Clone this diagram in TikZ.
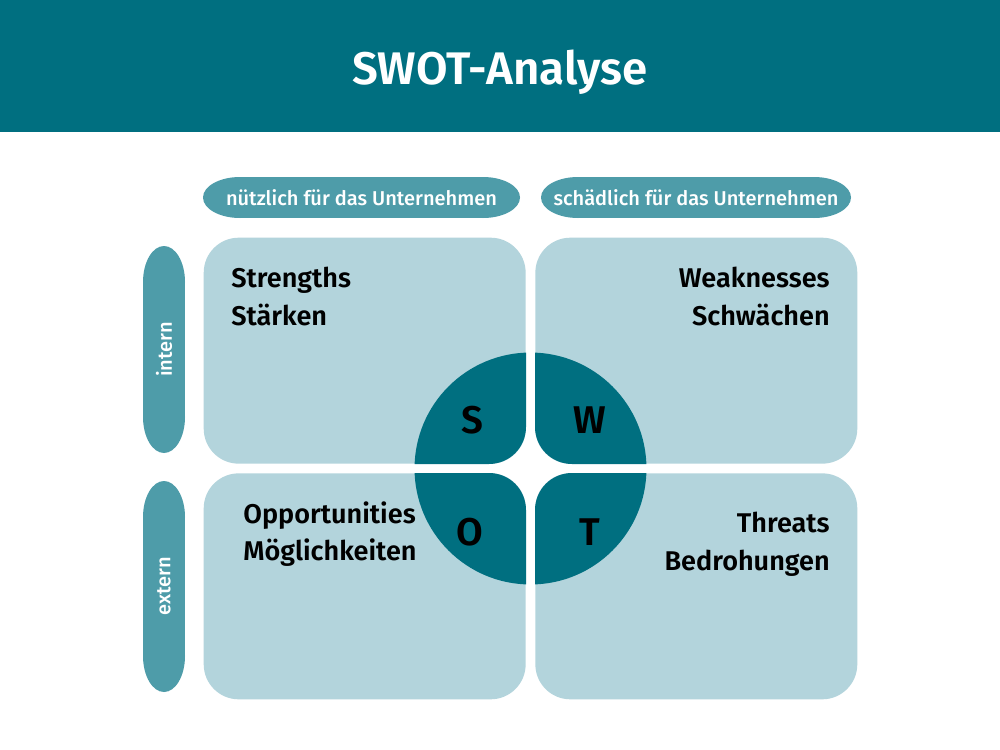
\documentclass[tikz,border=0pt]{standalone}
\usepackage{fontspec}
\setmainfont{Fira Sans}[UprightFont={* Medium}, BoldFont={* SemiBold}]
\definecolor{deep}{HTML}{006F80}
\definecolor{pillc}{HTML}{4E9CA9}
\definecolor{boxc}{HTML}{B3D4DC}
\begin{document}
\begin{tikzpicture}[x=0.02cm,y=-0.02cm,
  quad/.style={fill=boxc, draw=none, rounded corners=0.7cm, minimum width=6.44cm, minimum height=4.52cm, inner sep=0pt},
  pilltext/.style={text=white, inner sep=0pt, font=\fontsize{11.4}{13}\selectfont},
  quadtext/.style={inner sep=0pt, font=\bfseries\fontsize{15.4}{18}\selectfont},
  letter/.style={inner sep=0pt, font=\bfseries\fontsize{22}{24}\selectfont}]
\useasboundingbox (0,0) rectangle (1000,750);
\fill[white] (0,0) rectangle (1000,750);
% header
\node[fill=deep, minimum width=20cm, minimum height=2.64cm, inner sep=0pt, anchor=north west] (header) at (0,0) {};
\node[text=white, font=\bfseries\fontsize{26}{30}\selectfont, inner sep=0pt] (title) at (500,72) {SWOT-Analyse};
% top pills (elliptical ends)
\fill[pillc] (240,197.5) ellipse [x radius=37, y radius=20.5];
\fill[pillc] (483,197.5) ellipse [x radius=37, y radius=20.5];
\fill[pillc] (240,177) rectangle (483,218);
\node[pilltext] (useful) at (361.5,198) {nützlich für das Unternehmen};
\fill[pillc] (578,197.5) ellipse [x radius=37, y radius=20.5];
\fill[pillc] (814,197.5) ellipse [x radius=37, y radius=20.5];
\fill[pillc] (578,177) rectangle (814,218);
\node[pilltext] (harmful) at (696,198) {schädlich für das Unternehmen};
% side pills
\fill[pillc] (164,282) ellipse [x radius=21, y radius=36];
\fill[pillc] (164,417) ellipse [x radius=21, y radius=36];
\fill[pillc] (143,282) rectangle (185,417);
\node[pilltext, rotate=90] (intern) at (164,349.5) {intern};
\fill[pillc] (164,517) ellipse [x radius=21, y radius=36];
\fill[pillc] (164,656) ellipse [x radius=21, y radius=36];
\fill[pillc] (143,517) rectangle (185,656);
\node[pilltext, rotate=90] (extern) at (164,586.5) {extern};
% quadrants
\node[quad, anchor=south east] (qS) at (526,464) {};
\node[quad, anchor=south west] (qW) at (535,464) {};
\node[quad, anchor=north east] (qO) at (526,473) {};
\node[quad, anchor=north west] (qT) at (535,473) {};
% circle pieces
\begin{scope}
  \clip (530.5,468.5) circle (2.32cm);
  \fill[deep, rounded corners=0.74cm] (326,264) rectangle (526,464);
  \fill[deep, rounded corners=0.74cm] (535,264) rectangle (735,464);
  \fill[deep, rounded corners=0.74cm] (326,473) rectangle (526,673);
  \fill[deep, rounded corners=0.74cm] (535,473) rectangle (735,673);
\end{scope}
\node[letter] (lS) at (472,420) {S};
\node[letter] (lW) at (590,420) {W};
\node[letter] (lO) at (470,532) {O};
\node[letter] (lT) at (590,532) {T};
% quadrant texts
\node[quadtext, anchor=base west] (s1) at (231,287) {Strengths};
\node[quadtext, anchor=base west] (s2) at (231,325) {Stärken};
\node[quadtext, anchor=base east] (w1) at (830,287) {Weaknesses};
\node[quadtext, anchor=base east] (w2) at (830,325) {Schwächen};
\node[quadtext, anchor=base west] (o1) at (243,523) {Opportunities};
\node[quadtext, anchor=base west] (o2) at (243,560) {Möglichkeiten};
\node[quadtext, anchor=base east] (t1) at (830,532) {Threats};
\node[quadtext, anchor=base east] (t2) at (830,570) {Bedrohungen};
\end{tikzpicture}
\end{document}
